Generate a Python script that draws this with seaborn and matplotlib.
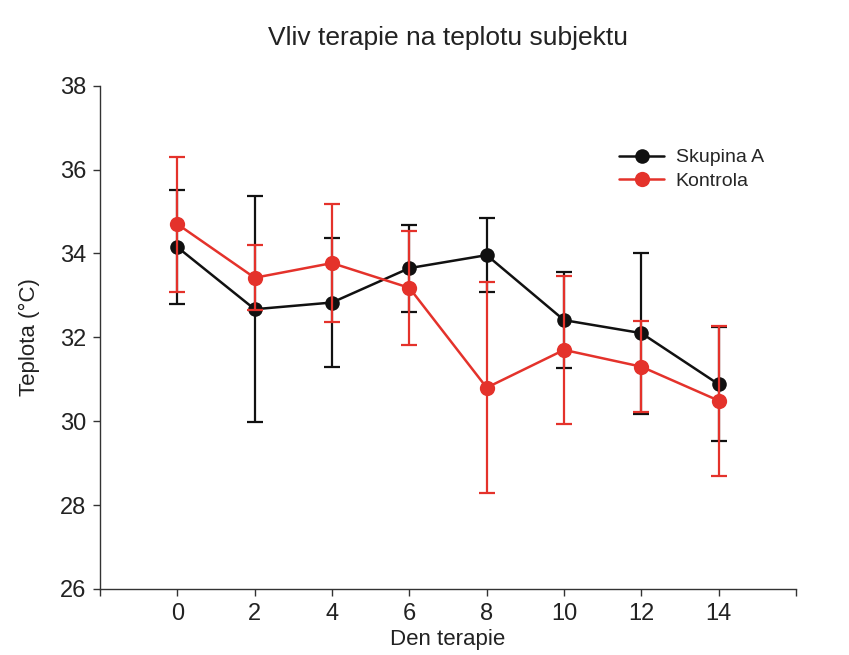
import numpy as np
import pandas as pd
import seaborn as sns
import matplotlib
matplotlib.use("Agg")
import matplotlib.pyplot as plt

days = [0, 2, 4, 6, 8, 10, 12, 14]
skupina_a = [34.15, 32.67, 32.83, 33.65, 33.96, 32.41, 32.10, 30.88]
skupina_a_err = [1.36, 2.69, 1.53, 1.04, 0.88, 1.14, 1.92, 1.36]
kontrola = [34.70, 33.42, 33.77, 33.18, 30.80, 31.70, 31.30, 30.49]
kontrola_err = [1.61, 0.77, 1.41, 1.36, 2.51, 1.76, 1.09, 1.79]
series_names = ["Skupina A", "Kontrola"]
x_ticks = [-2, 0, 2, 4, 6, 8, 10, 12, 14, 16]
x_ticklabels = ["", "0", "2", "4", "6", "8", "10", "12", "14", ""]
y_ticks = [26, 28, 30, 32, 34, 36, 38]

sns.set_theme(style="white")
plt.rcParams['font.family'] = ['Liberation Sans', 'DejaVu Sans']

colors = {"Skupina A": "#111111", "Kontrola": "#e4322b"}
msizes = {"Skupina A": 10.5, "Kontrola": 11}

df = pd.DataFrame({
    "day": days * 2,
    "temp": skupina_a + kontrola,
    "err": skupina_a_err + kontrola_err,
    "group": [series_names[0]] * len(days) + [series_names[1]] * len(days),
})

fig = plt.figure(figsize=(8.49, 6.55), dpi=100)
fig.patch.set_facecolor("white")
ax = fig.add_axes([0.1178, 0.1008, 0.8198, 0.7684])

for i, name in enumerate(series_names):
    sub = df[df["group"] == name]
    ax.errorbar(sub["day"], sub["temp"], yerr=sub["err"], fmt="none",
                ecolor=colors[name], elinewidth=1.6, capsize=6, capthick=1.6,
                zorder=2 + 2 * i)
    sns.lineplot(data=sub, x="day", y="temp", ax=ax, color=colors[name],
                 marker="o", markersize=msizes[name], markeredgewidth=0, linewidth=1.8,
                 label=name, zorder=3 + 2 * i)

ax.set_xlim(-2, 16)
ax.set_ylim(26, 38)
ax.set_xticks(x_ticks)
ax.set_xticklabels(x_ticklabels)
ax.set_yticks(y_ticks)
ax.tick_params(axis="both", direction="out", length=5, width=1, color="#333333",
               labelsize=17, labelcolor="#222222", bottom=True, left=True, pad=5)
for s in ["top", "right"]:
    ax.spines[s].set_visible(False)
for s in ["left", "bottom"]:
    ax.spines[s].set_color("#333333")
    ax.spines[s].set_linewidth(1)

ax.set_xlabel("Den terapie", fontsize=16, color="#222222", labelpad=3)
ax.set_ylabel("Teplota (°C)", fontsize=16, color="#222222", labelpad=14)
ax.set_title("Vliv terapie na teplotu subjektu", fontsize=19, color="#222222", pad=29)

leg = ax.legend(loc="upper left", bbox_to_anchor=(0.735, 0.89), frameon=False,
                fontsize=14, handlelength=2.3, handletextpad=0.6,
                labelspacing=0.3, borderaxespad=0)

fig.savefig("out.png", dpi=100, facecolor="white")
